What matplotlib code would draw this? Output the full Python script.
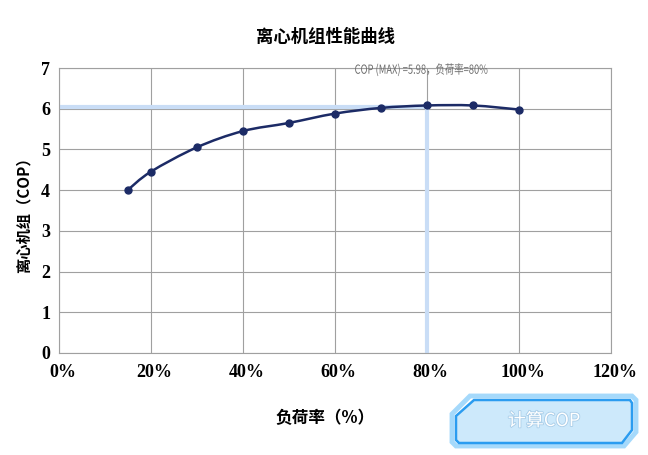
import matplotlib
matplotlib.use("Agg")
import matplotlib.pyplot as plt
import numpy as np
from matplotlib.path import Path
from matplotlib.patches import PathPatch, Polygon
from matplotlib.textpath import TextPath
from matplotlib.font_manager import FontProperties
import matplotlib.transforms as mtrans
import matplotlib.patheffects as pe

plt.rcParams['font.family'] = ['Noto Sans CJK SC', 'DejaVu Sans']

# 数据
load_rate = [15, 20, 30, 40, 50, 60, 70, 80, 90, 100]
cop = [4.0, 4.45, 5.05, 5.45, 5.65, 5.88, 6.02, 6.08, 6.08, 5.98]
x_ticks = [0, 20, 40, 60, 80, 100, 120]
x_tick_labels = ['0%', '20%', '40%', '60%', '80%', '100%', '120%']
y_ticks = [0, 1, 2, 3, 4, 5, 6, 7]
max_load = 80
max_cop = 6.04
note = 'COP (MAX) =5.98，负荷率=80%'

DPI = 100
fig = plt.figure(figsize=(6.48, 4.55), dpi=DPI)
ax = fig.add_axes([0.0904, 0.2242, 0.8525, 0.6263])

ax.set_xlim(0, 120)
ax.set_ylim(0, 7)
ax.set_xticks(x_ticks)
ax.set_xticklabels(x_tick_labels)
ax.set_yticks(y_ticks)
ax.grid(True, color='#a0a0a0', linewidth=0.8)
ax.set_axisbelow(True)
for s in ax.spines.values():
    s.set_color('#a0a0a0')
    s.set_linewidth(0.8)
ax.tick_params(length=0, pad=8)
for lab in ax.get_xticklabels() + ax.get_yticklabels():
    lab.set_fontfamily('Liberation Serif')
    lab.set_fontweight('bold')
    lab.set_fontsize(13)
ax.tick_params(axis='y', pad=6)
for lab in ax.get_xticklabels():
    lab.set_transform(lab.get_transform() + mtrans.ScaledTranslation(4 / DPI, 0, fig.dpi_scale_trans))

# 最大值辅助线
ax.plot([0, max_load], [max_cop, max_cop], color='#c9ddf6', lw=3, zorder=2)
ax.plot([max_load, max_load], [0, max_cop], color='#c9ddf6', lw=3, zorder=2)

# 平滑曲线 (Catmull-Rom -> bezier)
pts = np.column_stack([load_rate, cop]).astype(float)
verts = [pts[0]]
codes = [Path.MOVETO]
n = len(pts)
for i in range(n - 1):
    p0 = pts[i - 1] if i > 0 else pts[i]
    p1 = pts[i]
    p2 = pts[i + 1]
    p3 = pts[i + 2] if i + 2 < n else pts[i + 1]
    c1 = p1 + (p2 - p0) / 6
    c2 = p2 - (p3 - p1) / 6
    verts += [c1, c2, p2]
    codes += [Path.CURVE4] * 3
ax.add_patch(PathPatch(Path(verts, codes), facecolor='none', edgecolor='#1c2b66', lw=1.8, zorder=3))
ax.plot(load_rate, cop, 'o', color='#1c2b66', ms=5, zorder=4)

# 注释文字 (横向压缩)
fsize = 9
tp = TextPath((0, 0), note, size=fsize, prop=FontProperties(family='Noto Sans CJK SC'))
px = DPI / 72
tr = (mtrans.Affine2D().translate(0, -0.36 * fsize).scale(0.75 * px, px)
      + mtrans.ScaledTranslation(64.3, 6.97, ax.transData))
ax.add_artist(PathPatch(tp, transform=tr, facecolor='#6e6e6e', edgecolor='none',
                        zorder=5, clip_on=False))

fig.text(0.502, 0.918, '离心机组性能曲线', ha='center', va='center', fontsize=12.5, fontweight='bold')
fig.text(0.502, 0.081, '负荷率（%）', ha='center', va='center', fontsize=12, fontweight='bold')
fig.text(0.036, 0.535, '离心机组（COP）', ha='center', va='center', fontsize=11,
         fontweight='bold', rotation=90)

# 计算COP 按钮
W, H = 648, 455
def fp(x, y):
    return (x / W, 1 - y / H)
outer = [fp(470, 396), fp(632, 396), fp(636, 400), fp(636, 432), fp(624, 446),
         fp(456, 446), fp(452, 442), fp(452, 414)]
inner = [fp(474, 400), fp(630, 400), fp(632, 403), fp(632, 430), fp(622, 443),
         fp(459, 443), fp(456, 440), fp(456, 416)]
fig.patches.append(Polygon(outer, closed=True, transform=fig.transFigure,
                           facecolor='none', edgecolor='#8fd0fb', lw=3.5, alpha=0.8))
fig.patches.append(Polygon(inner, closed=True, transform=fig.transFigure,
                           facecolor='#cde9fb', edgecolor='#2b9cf0', lw=1.8))
t = fig.text(544 / W, 1 - 421 / H, '计算COP', ha='center', va='center', fontsize=13,
             color='white')
t.set_path_effects([pe.withStroke(linewidth=1.2, foreground='#a9cde8')])

fig.savefig('out.png', dpi=DPI)
